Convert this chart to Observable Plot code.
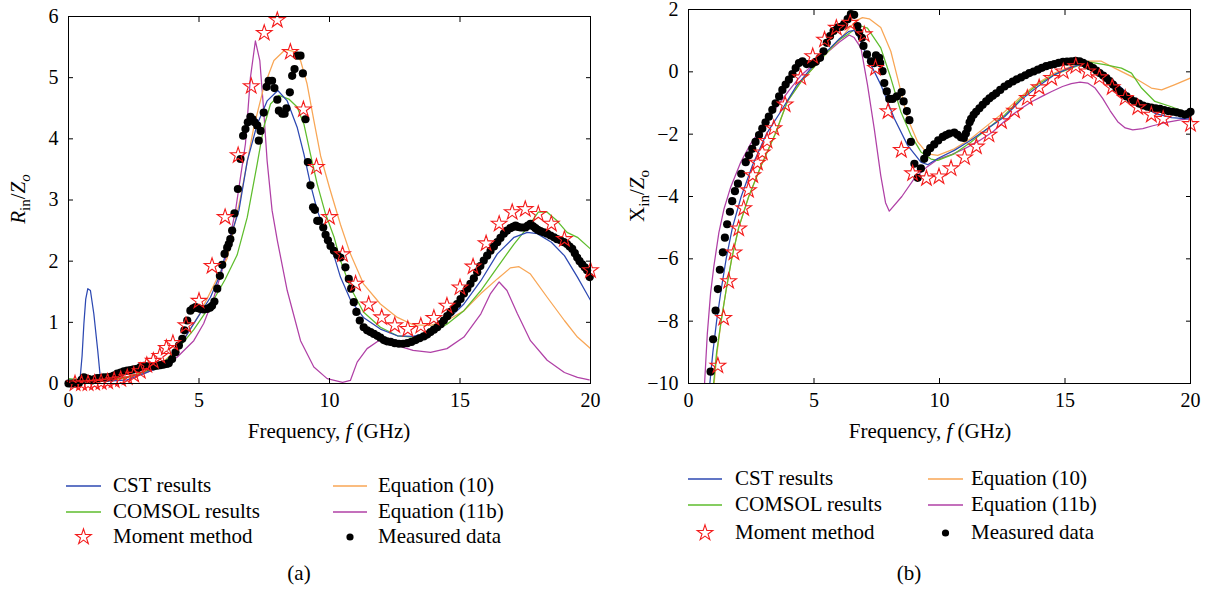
<!DOCTYPE html>
<html><head><meta charset="utf-8">
<script src="https://cdn.jsdelivr.net/npm/d3@7"></script>
<script src="https://cdn.jsdelivr.net/npm/@observablehq/plot@0.6"></script>
<style>
html,body{margin:0;padding:0;background:#fff;}
body{width:1215px;height:590px;position:relative;overflow:hidden;font-family:"Liberation Serif","DejaVu Serif",serif;color:#000;}
.chart{position:absolute;top:0;}
.lg{position:absolute;font-size:21px;line-height:24px;white-space:nowrap;}
.cap{position:absolute;font-size:21px;line-height:24px;transform:translateX(-50%);}
</style></head>
<body>
<div id="pa" class="chart" style="left:0px"></div>
<div id="pb" class="chart" style="left:608px"></div>
<script>
const SERIF = "Liberation Serif, DejaVu Serif, serif";
// ---------- axes / labels ----------
const xTicks = [0, 5, 10, 15, 20];
const yTicksA = [0, 1, 2, 3, 4, 5, 6];
const yTicksB = [-10, -8, -6, -4, -2, 0, 2];
const seriesNames = ["CST results", "COMSOL results", "Moment method", "Equation (10)", "Equation (11b)", "Measured data"];
const colors = {cst: "#2c48b2", comsol: "#5ebd2c", moment: "#f41c1c", eq10: "#f8a655", eq11b: "#b040a6", measured: "#000000"};

// ---------- (a) R_in / Z_o ----------
const cstA = [[0,0.02],[0.3,0.02],[0.44,0.06],[0.52,0.45],[0.59,0.98],[0.66,1.38],[0.74,1.55],[0.84,1.52],[0.97,1.14],[1.12,0.54],[1.23,0.05],[1.5,0.04],[2.0,0.05],[2.25,0.06],[2.8,0.15],[3.52,0.27],[4.16,0.54],[4.8,0.98],[5.44,1.41],[5.82,1.79],[6.08,2.23],[6.53,2.83],[6.85,3.64],[7.23,4.24],[7.61,4.62],[8.02,4.79],[8.38,4.62],[8.76,4.19],[9.02,3.75],[9.27,3.26],[9.53,2.83],[9.91,2.39],[10.2,2.05],[10.42,1.74],[10.81,1.36],[11.3,1.08],[11.95,0.89],[12.6,0.78],[13.2,0.77],[13.87,0.84],[14.5,1.03],[15.15,1.3],[15.8,1.68],[16.43,2.12],[17.07,2.39],[17.58,2.47],[17.96,2.45],[18.5,2.31],[19.0,2.09],[19.5,1.74],[20,1.36]];
const comsolA = [[0,0.08],[0.5,0.06],[1.0,0.05],[1.5,0.06],[2.25,0.1],[3.0,0.2],[3.52,0.3],[4.16,0.55],[4.8,0.88],[5.44,1.28],[6.0,1.7],[6.46,2.1],[6.85,2.72],[7.23,3.59],[7.48,4.19],[7.74,4.57],[8.06,4.71],[8.44,4.65],[8.76,4.52],[9.02,4.24],[9.27,3.75],[9.53,3.26],[9.85,2.77],[10.17,2.4],[10.42,2.01],[10.8,1.57],[11.3,1.17],[11.95,0.92],[12.6,0.78],[13.2,0.76],[13.8,0.8],[14.5,0.97],[15.15,1.19],[15.8,1.52],[16.43,1.9],[17.07,2.28],[17.58,2.55],[18.0,2.8],[18.34,2.8],[18.72,2.66],[19.1,2.47],[19.5,2.39],[20,2.2]];
const eq10A = [[0,0.0],[1,0.02],[2,0.07],[3,0.2],[3.5,0.3],[4,0.5],[4.5,0.78],[5,1.12],[5.5,1.55],[6.08,2.05],[6.59,3.04],[7.1,4.19],[7.48,4.84],[7.87,5.28],[8.31,5.46],[8.63,5.43],[8.89,5.28],[9.14,4.9],[9.4,4.3],[9.66,3.72],[10.0,3.2],[10.42,2.6],[10.8,2.12],[11.3,1.63],[11.95,1.3],[12.6,1.08],[13.2,0.96],[13.87,0.95],[14.5,1.03],[15.15,1.19],[15.8,1.47],[16.43,1.71],[16.93,1.89],[17.26,1.91],[17.7,1.79],[18.34,1.41],[19.0,1.03],[19.5,0.76],[20,0.57]];
const eq11bA = [[0,0.0],[1,0.02],[2.25,0.1],[2.89,0.16],[3.52,0.27],[4.16,0.43],[4.8,0.7],[5.18,0.98],[5.57,1.41],[6.0,2.01],[6.4,2.83],[6.78,3.92],[6.97,5.0],[7.16,5.6],[7.33,5.28],[7.48,4.46],[7.61,3.64],[7.8,2.83],[8.0,2.34],[8.38,1.52],[8.89,0.7],[9.4,0.27],[9.91,0.08],[10.5,0.02],[10.8,0.05],[11.06,0.35],[11.44,0.57],[11.88,0.7],[12.1,0.7],[12.6,0.62],[13.2,0.54],[13.87,0.51],[14.5,0.57],[15.15,0.76],[15.8,1.14],[16.17,1.47],[16.5,1.66],[16.8,1.52],[17.2,1.14],[17.7,0.7],[18.34,0.38],[19.0,0.18],[19.5,0.1],[19.95,0.06]];
const momentA = [[0.25,0],[0.5,0],[0.75,0],[1.0,0.01],[1.25,0.02],[1.5,0.03],[1.75,0.05],[2.0,0.07],[2.25,0.1],[2.5,0.14],[2.75,0.2],[3.0,0.3],[3.25,0.37],[3.5,0.45],[3.75,0.58],[4.0,0.66],[4.5,0.95],[5,1.35],[5.5,1.92],[6,2.72],[6.5,3.73],[7,4.86],[7.5,5.73],[8,5.94],[8.5,5.42],[9,4.48],[9.5,3.54],[10,2.72],[10.5,2.11],[11,1.63],[11.5,1.29],[12,1.08],[12.5,0.95],[13,0.89],[13.5,0.94],[14,1.07],[14.5,1.27],[15,1.57],[15.5,1.91],[16,2.29],[16.5,2.61],[17,2.8],[17.5,2.85],[18,2.77],[18.5,2.61],[19,2.36],[20,1.85]];
const measuredA = [[0,0],[0.1,0],[0.2,0],[0.3,0],[0.4,0.01],[0.5,0.06],[0.59,0.1],[0.7,0.08],[0.78,0.07],[0.9,0.05],[1.0,0.07],[1.1,0.09],[1.22,0.09],[1.35,0.1],[1.48,0.1],[1.61,0.11],[1.74,0.13],[1.87,0.16],[2.0,0.18],[2.12,0.2],[2.25,0.21],[2.38,0.22],[2.5,0.23],[2.63,0.24],[2.76,0.27],[2.89,0.29],[3.02,0.28],[3.14,0.28],[3.27,0.28],[3.4,0.29],[3.52,0.3],[3.65,0.31],[3.75,0.32],[3.84,0.33],[3.97,0.4],[4.1,0.51],[4.23,0.62],[4.36,0.73],[4.44,0.87],[4.55,1.03],[4.67,1.19],[4.77,1.23],[4.87,1.25],[4.97,1.23],[5.06,1.22],[5.18,1.21],[5.31,1.22],[5.42,1.24],[5.5,1.27],[5.59,1.34],[5.7,1.55],[5.8,1.76],[5.89,1.94],[5.98,2.12],[6.08,2.22],[6.14,2.28],[6.2,2.36],[6.27,2.5],[6.36,2.78],[6.49,3.18],[6.59,3.67],[6.69,4.05],[6.78,4.16],[6.87,4.27],[6.97,4.36],[7.05,4.32],[7.13,4.27],[7.23,4.22],[7.29,3.97],[7.36,4.13],[7.48,4.43],[7.59,4.85],[7.67,4.95],[7.8,4.95],[7.89,4.83],[8.0,4.64],[8.06,4.46],[8.19,4.41],[8.28,4.41],[8.35,4.5],[8.48,4.76],[8.57,5.03],[8.66,5.14],[8.76,5.36],[8.89,5.36],[8.98,5.07],[9.08,4.32],[9.17,3.62],[9.27,3.24],[9.37,2.88],[9.44,2.84],[9.53,2.66],[9.6,2.66],[9.76,2.55],[9.85,2.43],[9.94,2.34],[10.04,2.25],[10.17,2.17],[10.3,2.1],[10.42,2.06],[10.61,1.9],[10.74,1.71],[10.83,1.55],[10.93,1.33],[11.03,1.17],[11.16,1.03],[11.31,0.92],[11.44,0.87],[11.57,0.84],[11.7,0.81],[11.83,0.78],[11.95,0.75],[12.08,0.71],[12.2,0.69],[12.34,0.68],[12.5,0.66],[12.66,0.65],[12.82,0.65],[12.98,0.66],[13.14,0.68],[13.3,0.71],[13.45,0.74],[13.61,0.77],[13.74,0.8],[13.87,0.84],[14.0,0.88],[14.13,0.92],[14.26,0.97],[14.38,1.03],[14.51,1.1],[14.64,1.17],[14.77,1.23],[14.89,1.3],[15.02,1.38],[15.15,1.47],[15.28,1.55],[15.4,1.63],[15.53,1.72],[15.66,1.82],[15.78,1.92],[15.91,2.01],[16.04,2.09],[16.17,2.17],[16.3,2.24],[16.43,2.31],[16.55,2.38],[16.68,2.45],[16.8,2.5],[16.93,2.54],[17.03,2.56],[17.13,2.58],[17.22,2.56],[17.32,2.55],[17.42,2.55],[17.51,2.55],[17.6,2.58],[17.7,2.61],[17.8,2.57],[17.89,2.54],[17.98,2.51],[18.08,2.49],[18.21,2.47],[18.34,2.45],[18.47,2.42],[18.6,2.39],[18.72,2.36],[18.85,2.34],[18.98,2.31],[19.1,2.28],[19.2,2.24],[19.3,2.2],[19.4,2.13],[19.49,2.06],[19.58,2.0],[19.68,1.95],[19.78,1.9],[19.87,1.85],[19.97,1.74]];

// ---------- (b) X_in / Z_o ----------
const cstB = [[0.85,-10],[0.97,-9],[1.12,-8],[1.3,-7],[1.5,-6],[1.75,-5],[2.1,-4],[2.55,-3],[3.1,-2],[3.67,-1.28],[4.3,-0.45],[4.97,0.2],[5.5,0.65],[6.0,1.05],[6.4,1.3],[6.6,1.33],[6.85,1.0],[7.13,0.45],[7.66,-0.41],[8.2,-1.5],[8.73,-2.36],[9.26,-2.9],[9.53,-2.98],[9.93,-2.78],[10.59,-2.52],[11.26,-2.19],[11.92,-1.82],[12.59,-1.44],[13.25,-0.9],[13.92,-0.47],[14.58,-0.09],[15.25,0.15],[15.58,0.23],[15.92,0.22],[16.58,-0.04],[17.25,-0.52],[17.91,-1.01],[18.58,-1.33],[19.24,-1.47],[19.9,-1.51],[20,-1.52]];
const comsolB = [[1.0,-10],[1.12,-9],[1.3,-8],[1.5,-7],[1.72,-6],[2.0,-5],[2.4,-4],[2.9,-3],[3.45,-2],[3.94,-0.95],[4.5,-0.3],[5.0,0.15],[5.5,0.6],[5.94,0.99],[6.34,1.2],[6.6,1.35],[6.87,1.47],[7.13,1.4],[7.66,0.77],[8.06,-0.2],[8.46,-1.28],[8.86,-2.03],[9.26,-2.57],[9.66,-2.8],[9.93,-2.84],[10.59,-2.63],[11.26,-2.25],[11.92,-1.82],[12.59,-1.39],[13.25,-0.85],[13.92,-0.4],[14.58,-0.09],[15.25,0.12],[15.92,0.32],[16.58,0.23],[17.25,0.12],[17.65,-0.04],[18.05,-0.52],[18.58,-0.95],[19.24,-1.12],[19.77,-1.28],[20,-1.33]];
const eq10B = [[1.02,-10],[1.14,-9],[1.3,-8],[1.5,-7],[1.72,-6],[2.0,-5],[2.4,-4],[2.9,-3],[3.45,-2],[3.94,-0.95],[4.5,-0.3],[5.0,0.15],[5.5,0.6],[6.0,1.0],[6.4,1.4],[6.7,1.65],[6.93,1.74],[7.2,1.7],[7.66,1.42],[8.06,0.66],[8.33,-0.2],[8.73,-1.5],[9.13,-2.25],[9.53,-2.63],[9.93,-2.68],[10.59,-2.47],[11.26,-2.14],[11.92,-1.71],[12.59,-1.28],[13.25,-0.79],[13.92,-0.36],[14.58,-0.04],[15.25,0.18],[15.92,0.34],[16.45,0.34],[16.98,0.12],[17.78,-0.2],[18.44,-0.52],[18.85,-0.58],[19.38,-0.41],[20,-0.2]];
const eq11bB = [[0.64,-10],[0.75,-8.4],[0.88,-7.1],[1.01,-6.24],[1.21,-5.16],[1.41,-4.41],[1.68,-3.7],[2.08,-2.9],[2.48,-2.3],[3.0,-1.7],[3.5,-1.15],[4.0,-0.6],[4.5,-0.1],[5.0,0.25],[5.5,0.6],[6.0,0.95],[6.4,1.18],[6.6,1.1],[6.87,0.77],[7.13,-0.41],[7.4,-1.82],[7.66,-3.33],[7.85,-4.2],[8.0,-4.47],[8.5,-4.0],[9.0,-3.42],[9.5,-3.05],[9.95,-2.8],[10.5,-2.65],[11.04,-2.45],[11.6,-2.2],[12.13,-1.92],[12.5,-1.65],[12.9,-1.38],[13.3,-1.15],[13.69,-0.95],[14.1,-0.78],[14.47,-0.63],[14.9,-0.47],[15.25,-0.38],[15.6,-0.33],[15.9,-0.36],[16.2,-0.52],[16.5,-0.85],[16.8,-1.25],[17.1,-1.6],[17.4,-1.8],[17.7,-1.86],[18.1,-1.82],[18.5,-1.73],[19.1,-1.61],[19.6,-1.54],[20,-1.5]];
const momentB = [[1.17,-9.43],[1.4,-7.9],[1.6,-6.72],[1.81,-5.8],[2.0,-5.03],[2.2,-4.38],[2.39,-3.8],[2.56,-3.32],[2.75,-2.92],[2.94,-2.59],[3.13,-2.22],[3.4,-1.81],[3.85,-1.05],[4.47,-0.18],[4.95,0.5],[5.42,1.03],[5.89,1.41],[6.44,1.57],[7.0,1.2],[7.45,0.12],[7.95,-1.27],[8.48,-2.51],[8.93,-3.26],[9.48,-3.42],[9.98,-3.36],[10.46,-3.1],[11.0,-2.75],[11.47,-2.4],[11.97,-2.02],[12.47,-1.59],[12.99,-1.25],[13.5,-0.84],[13.97,-0.5],[14.47,-0.2],[14.93,0.01],[15.43,0.18],[15.9,0.01],[16.37,-0.18],[16.88,-0.5],[17.4,-0.84],[17.9,-1.14],[18.44,-1.38],[18.91,-1.51],[20,-1.68]];
const measuredB = [[0.88,-9.62],[0.98,-8.58],[1.08,-7.66],[1.17,-6.97],[1.25,-6.35],[1.37,-5.79],[1.45,-5.32],[1.54,-4.89],[1.65,-4.49],[1.74,-4.15],[1.85,-3.83],[1.97,-3.59],[2.1,-3.27],[2.28,-2.9],[2.41,-2.68],[2.54,-2.47],[2.67,-2.25],[2.81,-2.03],[2.94,-1.82],[3.07,-1.62],[3.2,-1.44],[3.34,-1.22],[3.47,-1.01],[3.61,-0.79],[3.74,-0.58],[3.87,-0.41],[4.0,-0.25],[4.14,-0.07],[4.27,0.12],[4.4,0.28],[4.54,0.34],[4.71,0.25],[4.9,0.25],[5.07,0.32],[5.24,0.45],[5.38,0.66],[5.51,0.93],[5.64,1.15],[5.78,1.31],[5.94,1.42],[6.07,1.44],[6.2,1.53],[6.34,1.69],[6.47,1.85],[6.6,1.83],[6.73,1.47],[6.8,1.26],[6.91,1.09],[6.97,0.83],[7.11,0.56],[7.27,0.34],[7.4,0.28],[7.47,0.53],[7.6,0.45],[7.64,0.28],[7.73,0.02],[7.8,-0.36],[7.9,-0.63],[8.0,-0.87],[8.13,-0.87],[8.3,-0.79],[8.49,-0.65],[8.57,-0.95],[8.7,-1.26],[8.8,-1.55],[8.86,-2.25],[9.0,-2.95],[9.13,-3.4],[9.26,-3.1],[9.39,-2.79],[9.5,-2.6],[9.63,-2.45],[9.79,-2.33],[9.95,-2.2],[10.13,-2.09],[10.26,-2.03],[10.39,-1.98],[10.59,-1.95],[10.72,-2.02],[10.85,-2.1],[10.97,-2.12],[11.05,-1.98],[11.12,-1.82],[11.2,-1.62],[11.26,-1.51],[11.36,-1.38],[11.46,-1.28],[11.59,-1.17],[11.72,-1.06],[11.86,-0.95],[11.99,-0.85],[12.12,-0.77],[12.26,-0.69],[12.42,-0.58],[12.59,-0.47],[12.75,-0.39],[12.92,-0.31],[13.08,-0.24],[13.25,-0.18],[13.42,-0.11],[13.58,-0.04],[13.75,0.01],[13.92,0.07],[14.08,0.13],[14.25,0.18],[14.42,0.22],[14.58,0.25],[14.75,0.29],[14.92,0.32],[15.08,0.33],[15.25,0.34],[15.42,0.35],[15.58,0.34],[15.72,0.29],[15.85,0.23],[15.98,0.18],[16.12,0.12],[16.25,0.04],[16.38,-0.04],[16.52,-0.12],[16.65,-0.2],[16.78,-0.3],[16.91,-0.41],[17.05,-0.52],[17.18,-0.63],[17.32,-0.72],[17.45,-0.79],[17.62,-0.88],[17.78,-0.95],[17.95,-1.02],[18.11,-1.08],[18.28,-1.12],[18.44,-1.15],[18.61,-1.17],[18.78,-1.19],[18.95,-1.23],[19.11,-1.26],[19.28,-1.28],[19.44,-1.3],[19.6,-1.33],[19.77,-1.37],[19.9,-1.35],[20.0,-1.28]];

// ---------- build ----------
const X = d => d[0], Y = d => d[1];
const intFmt = d3.format("d");
function chart({mL, mR, mT, yDomain, yTicks, cst, comsol, eq10, eq11b, moment, measured}) {
  const line = (data, c) => Plot.line(data, {x: X, y: Y, stroke: c, strokeWidth: 1.25, clip: true});
  return Plot.plot({
    width: 600, height: 450,
    marginLeft: mL, marginRight: mR, marginTop: mT, marginBottom: 450 - 383,
    style: {fontFamily: SERIF, fontSize: "20px", color: "#000", background: "transparent", overflow: "visible"},
    x: {domain: [0, 20]},
    y: {domain: yDomain},
    marks: [
      line(eq11b, colors.eq11b),
      line(eq10, colors.eq10),
      line(comsol, colors.comsol),
      line(cst, colors.cst),
      Plot.dot(measured, {x: X, y: Y, r: 4.1, fill: colors.measured, stroke: "none"}),
      Plot.dot(moment, {x: X, y: Y, symbol: "star", r: 4.9, fill: "none", stroke: colors.moment, strokeWidth: 1.1}),
      Plot.frame({stroke: "#000", strokeWidth: 1}),
      Plot.axisX({anchor: "bottom", ticks: xTicks, tickSize: -5, tickPadding: 14, tickFormat: intFmt, label: null, fontSize: 20}),
      Plot.axisX({anchor: "top", ticks: xTicks, tickSize: -5, tickFormat: () => "", label: null}),
      Plot.axisY({anchor: "left", ticks: yTicks, tickSize: -5, tickPadding: 15, tickFormat: intFmt, label: null, fontSize: 20}),
      Plot.axisY({anchor: "right", ticks: yTicks, tickSize: -5, tickFormat: () => "", label: null})
    ]
  });
}

const svgA = chart({mL: 68, mR: 10, mT: 16, yDomain: [0, 6], yTicks: yTicksA,
  cst: cstA, comsol: comsolA, eq10: eq10A, eq11b: eq11bA, moment: momentA, measured: measuredA});
const svgB = chart({mL: 80, mR: 18, mT: 9, yDomain: [-10, 2], yTicks: yTicksB,
  cst: cstB, comsol: comsolB, eq10: eq10B, eq11b: eq11bB, moment: momentB, measured: measuredB});
document.getElementById("pa").appendChild(svgA);
document.getElementById("pb").appendChild(svgB);

function xLabel(svg, cx) {
  const t = d3.select(svg).append("text").attr("x", cx).attr("y", 438)
    .attr("text-anchor", "middle").attr("font-size", 21).attr("font-family", SERIF).attr("fill", "#000");
  t.append("tspan").text("Frequency, ");
  t.append("tspan").attr("font-style", "italic").text("f");
  t.append("tspan").text(" (GHz)");
}
function yLabel(svg, x, y, parts) {
  const t = d3.select(svg).append("text").attr("transform", `translate(${x},${y}) rotate(-90)`)
    .attr("text-anchor", "middle").attr("font-size", 21).attr("font-family", SERIF).attr("fill", "#000");
  let shifted = false;
  for (const p of parts) {
    const ts = t.append("tspan").text(p.t);
    if (p.it) ts.attr("font-style", "italic");
    if (p.sub) { ts.attr("font-size", 15).attr("dy", shifted ? 0 : 5); shifted = true; }
    else if (shifted) { ts.attr("dy", -5); shifted = false; }
  }
}
xLabel(svgA, 329);
xLabel(svgB, 930 - 608);
yLabel(svgA, 25, 199, [{t: "R", it: true}, {t: "in", sub: true}, {t: "/"}, {t: "Z", it: true}, {t: "o", it: true, sub: true}]);
yLabel(svgB, 644 - 608, 196, [{t: "X"}, {t: "in", sub: true}, {t: "/"}, {t: "Z", it: true}, {t: "o", sub: true}]);

// ---------- legends ----------
const starPath = d3.symbol(d3.symbolStar, Math.PI * 4.9 * 4.9)();
function legend(c1, c2, rows, capX, capText) {
  const kinds = [
    {name: seriesNames[0], kind: "line", color: colors.cst, col: c1, row: 0},
    {name: seriesNames[1], kind: "line", color: colors.comsol, col: c1, row: 1},
    {name: seriesNames[2], kind: "star", color: colors.moment, col: c1, row: 2},
    {name: seriesNames[3], kind: "line", color: colors.eq10, col: c2, row: 0},
    {name: seriesNames[4], kind: "line", color: colors.eq11b, col: c2, row: 1},
    {name: seriesNames[5], kind: "dot", color: colors.measured, col: c2, row: 2}
  ];
  for (const k of kinds) {
    const y = rows[k.row];
    const [s0, s1, tx] = k.col;
    const s = d3.create("svg").attr("width", s1 - s0 + 8).attr("height", 24)
      .style("position", "absolute").style("left", (s0 - 4) + "px").style("top", (y - 12) + "px");
    if (k.kind === "line") {
      s.append("line").attr("x1", 4).attr("x2", s1 - s0 + 4).attr("y1", 12).attr("y2", 12)
        .attr("stroke", k.color).attr("stroke-width", 1.6);
    } else if (k.kind === "star") {
      s.append("path").attr("d", starPath).attr("transform", `translate(${(s1 - s0) / 2 + 4},12)`)
        .attr("fill", "none").attr("stroke", k.color).attr("stroke-width", 1.1);
    } else {
      s.append("circle").attr("cx", (s1 - s0) / 2 + 4).attr("cy", 12).attr("r", 3.6).attr("fill", k.color);
    }
    document.body.appendChild(s.node());
    const t = document.createElement("div");
    t.className = "lg"; t.textContent = k.name;
    t.style.left = tx + "px"; t.style.top = (y - 13) + "px";
    document.body.appendChild(t);
  }
  const c = document.createElement("div");
  c.className = "cap"; c.textContent = capText;
  c.style.left = capX + "px"; c.style.top = "561px";
  document.body.appendChild(c);
}
legend([66, 101, 113], [333, 367, 378], [486, 512, 537], 299, "(a)");
legend([688, 722, 735], [928, 963, 971], [479, 505, 533], 909, "(b)");
</script>
</body></html>
